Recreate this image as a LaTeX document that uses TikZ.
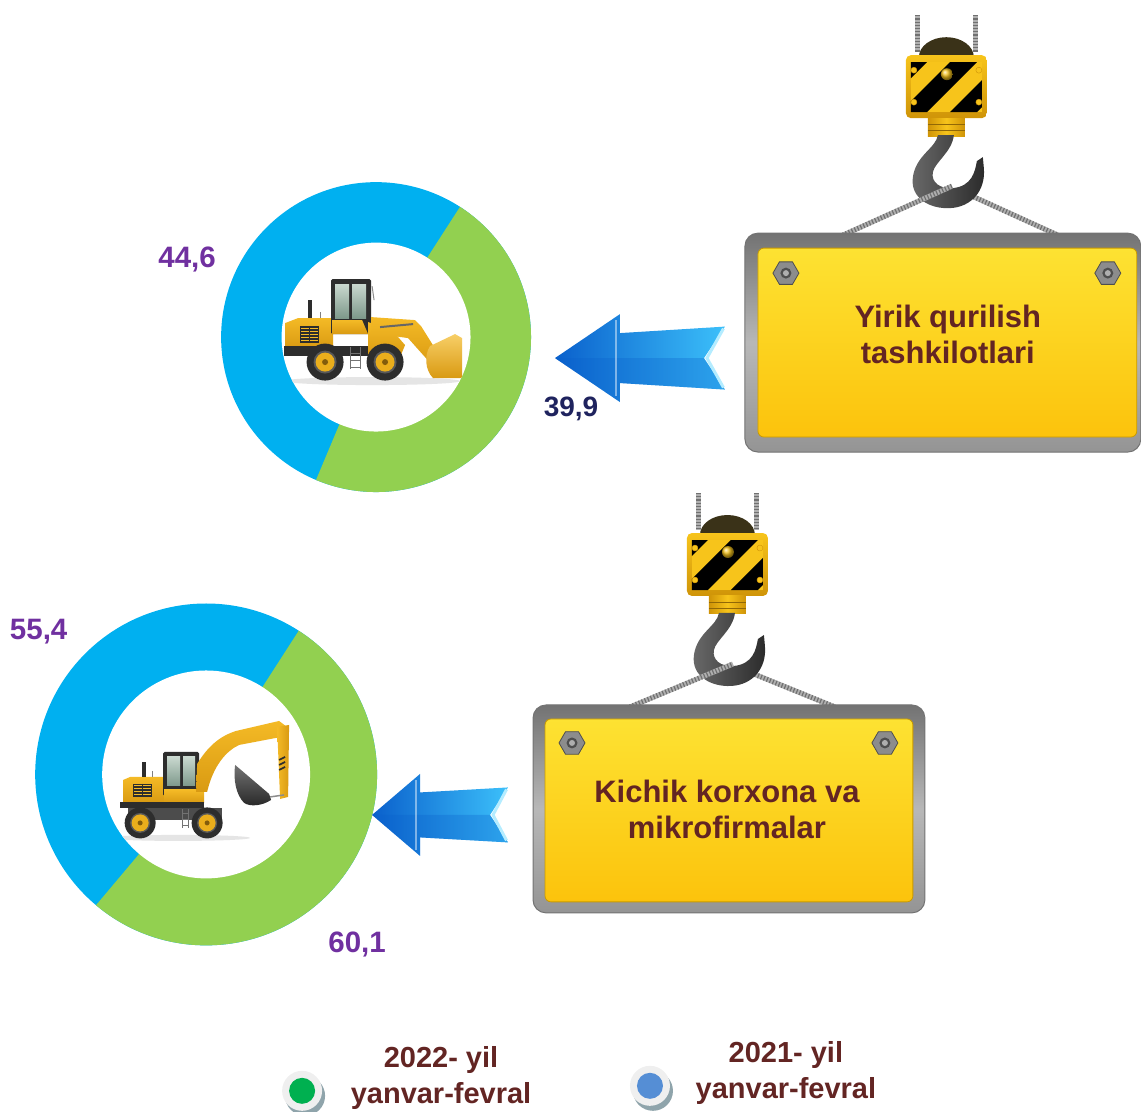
\documentclass[tikz,border=0pt]{standalone}
\usepackage{fontspec}
\setmainfont{Liberation Sans}
\usetikzlibrary{shapes.geometric}

\definecolor{ringBlue}{HTML}{00B0F0}
\definecolor{ringGreen}{HTML}{92D050}
\definecolor{valuePurple}{HTML}{7030A0}
\definecolor{valueNavy}{HTML}{1F235E}
\definecolor{signMaroon}{HTML}{632523}
\definecolor{signTop}{HTML}{FDE232}
\definecolor{signBottom}{HTML}{FCC30C}
\definecolor{signEdge}{HTML}{C99A00}
\definecolor{nutGray}{HTML}{8C8C8C}
\definecolor{nutDark}{HTML}{4E4E4E}
\definecolor{bodyYellow}{HTML}{F4BA26}
\definecolor{bodyShade}{HTML}{D99A12}
\definecolor{bodyDark}{HTML}{2D2D2D}
\definecolor{glassTop}{HTML}{C9D8CF}
\definecolor{glassBottom}{HTML}{7E998B}
\definecolor{hubYellow}{HTML}{EAAE1C}
\definecolor{arrowDeep}{HTML}{0A60CC}
\definecolor{arrowSky}{HTML}{3CC0FA}
\definecolor{arrowRim}{HTML}{B4ECFF}
\definecolor{hookDark}{HTML}{2A2A2A}
\definecolor{hookLight}{HTML}{6A6A6A}
\definecolor{blockYellow}{HTML}{F7C41B}
\definecolor{blockShade}{HTML}{CF9408}
\definecolor{domeDark}{HTML}{3A3218}
\definecolor{ropeGray}{HTML}{B0B0B0}
\definecolor{ropeDark}{HTML}{707070}
\definecolor{legendGreen}{HTML}{00B050}
\definecolor{legendBlue}{HTML}{558ED5}
\definecolor{legendShadow}{HTML}{8FA4AB}
\definecolor{legendRing}{HTML}{EFEFEF}

\tikzset{
  rope/.style={line width=5pt, draw=ropeGray, postaction={draw=ropeDark, line width=5pt, dash pattern=on 1.2pt off 2pt}},
  value/.style={font=\bfseries\fontsize{29.5}{30}\selectfont, text=valuePurple, inner sep=0pt, anchor=base},
  signtext/.style={font=\bfseries\fontsize{31}{36}\selectfont, text=signMaroon, align=center, inner sep=0pt},
  legendtext/.style={font=\bfseries\fontsize{29}{36}\selectfont, text=signMaroon, align=center, inner sep=0pt},
  signframe/.style={rectangle, rounded corners=13pt, top color=black!55, bottom color=black!42, middle color=black!28, draw=black!55, line width=1pt, inner sep=0pt},
  signface/.style={rectangle, rounded corners=6pt, top color=signTop, bottom color=signBottom, draw=signEdge, line width=0.8pt, inner sep=0pt},
  nut/.style={regular polygon, regular polygon sides=6, minimum size=26pt, inner sep=0pt, fill=nutGray, draw=nutDark, line width=0.8pt},
  legenddot/.style={circle, minimum size=26pt, inner sep=0pt},
}

\begin{document}
\begin{tikzpicture}[x=1pt, y=-1pt]
		\draw[use as bounding box, transparent] (0,0) rectangle (1141,1111);

		% Define the macro.
		% 1st argument: X of the ring centre.
		% 2nd argument: Y of the ring centre.
		% 3rd argument: Outer radius.
		% 4th argument: Inner radius.
		% 5th argument: Sweep of the green slice, clockwise from the upper split.
		\newcommand{\donutChart}[5]{
			\def\ringx{#1}
			\def\ringy{#2}
			\def\ringout{#3}
			\def\ringin{#4}
			\pgfmathsetmacro{\greenend}{-57.2+#5}

			\fill[ringBlue] (\ringx,\ringy) circle[radius=\ringout];
			\fill[ringGreen] (\ringx,\ringy) -- ++(-57.2:\ringout) arc[start angle=-57.2, end angle=\greenend, radius=\ringout] -- cycle;
			\fill[white] (\ringx,\ringy) circle[radius=\ringin];
		}

		% Define the arrow macro.
		% 1st/2nd argument: Tip.
		% 3rd argument: X of the back of the head.
		% 4th argument: Half height of the head.
		% 5th argument: Half height of the shaft at the head.
		% 6th argument: X of the tail.
		% 7th argument: Half height of the shaft at the tail.
		% 8th argument: Depth of the tail notch.
		\newcommand{\blockArrow}[8]{
			\def\tipx{#1}
			\def\tipy{#2}
			\def\headx{#3}
			\def\headh{#4}
			\def\shafta{#5}
			\def\tailx{#6}
			\def\shaftb{#7}
			\def\notch{#8}

			\shade[left color=arrowDeep, right color=arrowSky] (\tipx,\tipy) -- (\headx,\tipy-\headh) -- (\headx,\tipy-\shafta) -- (\tailx,\tipy-\shaftb) -- (\tailx-\notch,\tipy) -- (\tailx,\tipy+\shaftb) -- (\headx,\tipy+\shafta) -- (\headx,\tipy+\headh) -- cycle;
			\fill[arrowDeep, opacity=0.3] (\tipx,\tipy) -- (\tailx-\notch,\tipy) -- (\tailx,\tipy+\shaftb) -- (\headx,\tipy+\shafta) -- (\headx,\tipy+\headh) -- cycle; % darker lower half
			\draw[white, opacity=0.45, line width=2pt] (\headx-4,\tipy-\headh+6) -- (\headx-4,\tipy+\headh-6);
			\draw[arrowRim, line width=3pt] (\tailx-1.5,\tipy-\shaftb+2) -- (\tailx-\notch+3,\tipy) -- (\tailx-1.5,\tipy+\shaftb-2);
		}

		% Define the crane macro.
		% 1st argument: X shift from the upper crane.
		% 2nd argument: Y shift from the upper crane.
		% 3rd argument: Left sling end on the sign.
		% 4th argument: Right sling end on the sign.
		% 5th argument: Name of the hook.
		\newcommand{\craneHook}[5]{
			\begin{scope}[shift={(#1,#2)}]
				\draw[rope] (918,15) -- (918,52);
				\draw[rope] (976,15) -- (976,52);
				\fill[domeDark] (919,57) arc[start angle=180, end angle=360, x radius=27.5, y radius=20] -- cycle;

				% Block with hazard stripes
				\shade[top color=blockYellow, bottom color=blockShade, rounded corners=5pt] (906,55) rectangle (987,118);
				\fill[blockYellow] (911,62) rectangle (982,112);
				\begin{scope}
					\clip (911,62) rectangle (982,112);
					\foreach \s in {900,950,1000}{
						\fill[black] (\s,62) -- ++(27,0) -- ++(-50,50) -- ++(-27,0) -- cycle;
					}
				\end{scope}
				\foreach \bx/\by in {914/70,979/70,914/102,979/102}{
					\fill[blockYellow, draw=blockShade] (\bx,\by) circle[radius=3];
				}
				\shade[ball color=blockYellow] (947,74) circle[radius=6];

				% Collar
				\shade[left color=blockShade, right color=blockShade, middle color=blockYellow] (928,118) rectangle (965,136);
				\draw[blockShade!70!black, line width=0.8pt] (928,124) -- (965,124) (928,130) -- (965,130);

				\coordinate (#5L) at (952,186);
				\coordinate (#5R) at (968,194);
			\end{scope}

			\draw[rope] (#5R) -- (#4);

			\begin{scope}[shift={(#1,#2)}]
				\shade[left color=hookLight, right color=hookDark] (938,135) .. controls (936,148) and (916,155) .. (913,177) .. controls (910,198) and (930,209) .. (950,208) .. controls (972,207) and (986,190) .. (984,168) -- (983,157) -- (977,161) .. controls (975,172) and (972,186) .. (953,188) .. controls (940,189) and (931,182) .. (933,172) .. controls (935,162) and (952,152) .. (954,135) -- cycle;
			\end{scope}

			\draw[rope] (#3) -- (#5L);
		}

		% RINGS
		\donutChart{376}{337}{155}{94.5}{170.0}
		\donutChart{206}{774.5}{171}{104}{187.3}

		% WHEEL LOADER
		\begin{scope}
			\clip (376,337) circle[radius=94.5];
			\fill[black!10] (372,381) ellipse[x radius=88, y radius=4];
			\shade[top color=bodyYellow, bottom color=bodyShade] (285,323) -- (298,318) -- (333,318) -- (333,348) -- (285,348) -- cycle;
			\fill[bodyDark] (300,326) rectangle (319,343);
			\foreach \g in {328,331,...,340}{
				\draw[bodyYellow, line width=0.9pt] (301,\g) -- (318,\g);
			}
			\draw[bodyDark, line width=1.4pt] (309.5,326) -- (309.5,343);
			\fill[bodyDark] (308,300) rectangle (312,318);
			\draw[black!50, line width=1pt] (320,312) -- (320,318);
			\fill[bodyDark, rounded corners=1.5pt] (331,279) rectangle (371,334);
			\shade[top color=glassTop, bottom color=glassBottom] (335,284) rectangle (349,318);
			\shade[top color=glassTop, bottom color=glassBottom] (352,284) rectangle (366,318);
			\shade[top color=bodyYellow, bottom color=bodyShade] (332,320) -- (362,320) -- (368,334) -- (332,334) -- cycle;
			\draw[black!45, line width=1pt] (372,286) -- (374,300);
			\fill[bodyDark] (284,346) rectangle (376,356);
			\shade[top color=bodyYellow, bottom color=bodyShade] (368,322) -- (392,330) -- (405,345) -- (400,357) -- (368,357) -- cycle;
			\shade[top color=bodyYellow, bottom color=bodyShade] (371,317) -- (415,320) -- (421,326) -- (441,358) -- (433,366) -- (408,338) -- (372,333) -- cycle;
			\draw[black!60, line width=2pt] (380,327) -- (413,324);
			\shade[top color=bodyYellow!70!white, bottom color=bodyShade] (430,346) -- (455,334) -- (462,338) -- (462,378) -- (433,378) .. controls (425,370) and (424,355) .. (430,346) -- cycle;
			\foreach \wx in {325,385}{
				\fill[bodyDark] (\wx,362) circle[radius=18.5];
				\fill[black!65] (\wx,362) circle[radius=11.5];
				\fill[hubYellow] (\wx,362) circle[radius=9.5];
				\fill[bodyShade!60!black] (\wx,362) circle[radius=3];
			}
			\draw[black!55, line width=1pt] (350,347) -- (350,369) (360,347) -- (360,369);
			\foreach \ly in {353,360,367}{
				\draw[black!55, line width=1pt] (350,\ly) -- (360,\ly);
			}
		\end{scope}

		% EXCAVATOR
		\begin{scope}
			\clip (206,774.5) circle[radius=104];
			\fill[black!10] (178,838) ellipse[x radius=72, y radius=3];
			\shade[top color=bodyYellow, bottom color=bodyShade] (123,780) -- (130,777) -- (164,777) -- (164,803) -- (123,803) -- cycle;
			\fill[bodyDark] (133,784) rectangle (152,797);
			\foreach \g in {786,789,...,795}{
				\draw[bodyYellow, line width=0.9pt] (134,\g) -- (151,\g);
			}
			\draw[bodyDark, line width=1.4pt] (142.5,784) -- (142.5,797);
			\fill[bodyDark] (142,762) rectangle (146,777);
			\draw[black!50, line width=1pt] (152,771) -- (152,777);
			\fill[bodyDark, rounded corners=1.5pt] (163,752) rectangle (199,796);
			\shade[top color=glassTop, bottom color=glassBottom] (167,757) rectangle (180,786);
			\shade[top color=glassTop, bottom color=glassBottom] (183,757) rectangle (195,786);
			\shade[top color=bodyYellow, bottom color=bodyShade] (164,790) rectangle (204,803);
			\fill[bodyDark] (120,802) rectangle (204,808);
			\fill[bodyDark!85] (128,808) rectangle (222,820);
			\shade[top color=bodyYellow, bottom color=bodyShade] (196,792) -- (197,764) .. controls (208,746) and (220,736) .. (236,731) -- (279,721) -- (287,727) -- (281,737) -- (239,745) .. controls (226,751) and (213,766) .. (207,792) -- cycle;
			\shade[left color=bodyYellow, right color=bodyShade] (277,727) -- (289,725) -- (288,797) -- (280,799) -- cycle;
			\foreach \hy in {760,765,770}{
				\draw[bodyDark, line width=1.6pt] (279,\hy) -- (285,\hy-3);
			}
			\shade[top color=black!55, bottom color=black!85] (235,765) -- (269,794) -- (271,800) .. controls (262,806) and (250,807) .. (244,803) .. controls (236,795) and (233,780) .. (235,765) -- cycle;
			\draw[black!45, line width=1.5pt] (270,797) -- (284,795);
			\foreach \wx in {140,207}{
				\fill[bodyDark] (\wx,823) circle[radius=15.5];
				\fill[black!65] (\wx,823) circle[radius=10];
				\fill[hubYellow] (\wx,823) circle[radius=8.5];
				\fill[bodyShade!60!black] (\wx,823) circle[radius=2.5];
			}
			\draw[black!55, line width=0.9pt] (182,809) -- (182,828) (188,809) -- (188,828);
			\foreach \ly in {814,820,826}{
				\draw[black!55, line width=0.9pt] (182,\ly) -- (188,\ly);
			}
		\end{scope}

		% ARROWS
		\blockArrow{555}{358}{620}{44}{25}{725}{31.5}{21}
		\blockArrow{372}{815}{420}{41}{22.5}{508}{27.5}{18}

		% VALUES
		\node[value] (valueTopBlue) at (187,267) {44,6};
		\node[value, text=valueNavy, font=\bfseries\fontsize{28}{30}\selectfont] (valueTopGreen) at (571,416) {39,9};
		\node[value] (valueLowBlue) at (38.5,639.5) {55,4};
		\node[value] (valueLowGreen) at (357,953) {60,1};

		% CRANES
		\coordinate (yirikSlingL) at (843,235);
		\coordinate (yirikSlingR) at (1058,235);
		\coordinate (kichikSlingL) at (630,707);
		\coordinate (kichikSlingR) at (835,707);
		\craneHook{0}{0}{yirikSlingL}{yirikSlingR}{topHook}
		\craneHook{-219}{478}{kichikSlingL}{kichikSlingR}{lowHook}

		% SIGNS
		\node[signframe, minimum width=396pt, minimum height=219pt] (yirikFrame) at (943,342.5) {};
		\node[signface, minimum width=379pt, minimum height=189pt] (yirikFace) at (947.5,342.5) {};
		\node[nut] (yirikNutL) at (786,273) {};
		\node[nut] (yirikNutR) at (1108,273) {};
		\node[signtext] (yirikText) at (948,334) {Yirik qurilish\\tashkilotlari};

		\node[signframe, minimum width=392pt, minimum height=208pt] (kichikFrame) at (729,809) {};
		\node[signface, minimum width=368pt, minimum height=183pt] (kichikFace) at (729,810.5) {};
		\node[nut] (kichikNutL) at (572,743) {};
		\node[nut] (kichikNutR) at (885,743) {};
		\node[signtext] (kichikText) at (727,809.5) {Kichik korxona va\\mikrofirmalar};

		\foreach \n in {yirikNutL,yirikNutR,kichikNutL,kichikNutR}{
			\fill[nutDark] (\n) circle[radius=5.5];
			\fill[nutGray!70!white] (\n) circle[radius=3];
		}

		% LEGEND
		\fill[legendShadow] (305,1096) circle[radius=20];
		\fill[legendRing] (302,1091) circle[radius=20];
		\node[legenddot, fill=legendGreen] (dot2022) at (302,1091) {};
		\node[legendtext] (legend2022) at (441,1078) {2022- yil\\yanvar-fevral};

		\fill[legendShadow] (653,1091) circle[radius=20];
		\fill[legendRing] (650,1086) circle[radius=20];
		\node[legenddot, fill=legendBlue] (dot2021) at (650,1086) {};
		\node[legendtext] (legend2021) at (786,1073) {2021- yil\\yanvar-fevral};

	\end{tikzpicture}
\end{document}
